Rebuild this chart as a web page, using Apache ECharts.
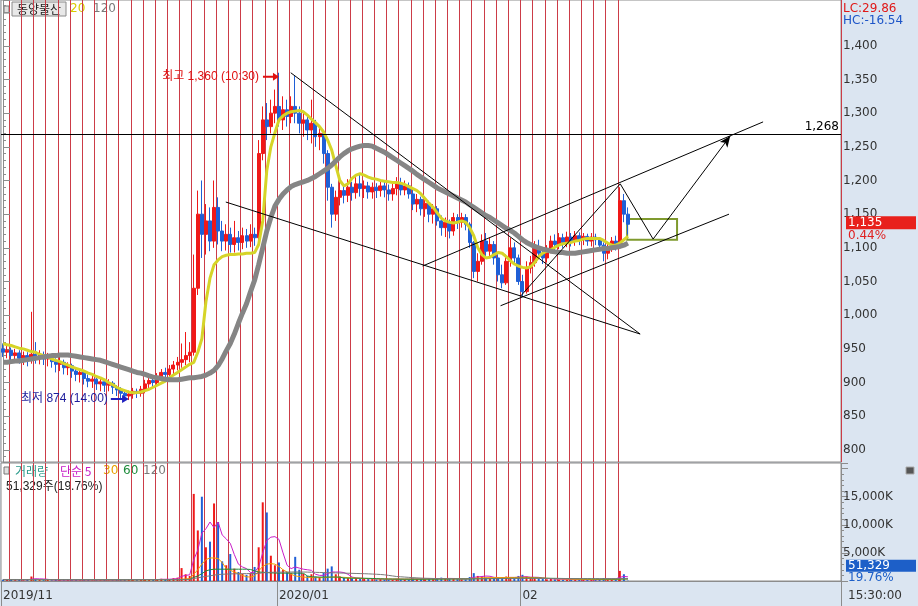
<!DOCTYPE html>
<html><head><meta charset="utf-8">
<script src="https://cdn.jsdelivr.net/npm/echarts@6/dist/echarts.min.js"></script>
<style>html,body{margin:0;padding:0;background:#fff}#c{width:918px;height:606px}</style>
</head><body><div id="c"></div>
<script>
// ---------------- data ----------------
const stockName = '동양물산';
const priceMaPeriods = ['20', '120'];
const volMaNames = ['단순 5', '30', '60', '120'];
const tickLabels = ['2019/11', '2020/01', '02'];
const tickSlots = [0, 68, 128];
const slotCount = 207;          // 3 slots per trading day + empty right margin
const firstDayLineSlot = 2, lastDayLineSlot = 152, slotsPerDay = 3;

// [open, close, low, high]
const candles = [
[950,945,938,958],[945,948,936,955],[948,940,933,952],[940,944,931,950],[944,936,928,948],
[936,940,926,946],[940,934,924,945],[934,942,928,1005],[942,936,928,960],[936,941,927,948],
[941,935,926,946],[935,938,924,944],[938,931,922,942],[931,927,915,936],[927,930,917,938],
[930,922,912,934],[922,925,911,930],[925,917,907,928],[917,912,902,922],[912,915,900,920],
[915,906,897,918],[906,902,893,912],[902,905,892,910],[905,898,889,908],[898,901,887,906],
[901,896,886,904],[896,899,887,905],[899,893,883,902],[893,889,880,896],[889,884,876,893],
[884,880,874,889],[880,883,874,888],[883,887,876,892],[887,884,877,891],[884,890,879,895],
[890,898,884,904],[898,903,892,908],[903,900,893,910],[900,908,895,914],[908,915,902,920],
[915,912,904,922],[912,920,906,926],[920,926,912,932],[926,930,918,938],[930,934,922,958],
[934,940,926,975],[940,945,930,960],[945,1040,940,1090],[1040,1150,1030,1185],[1150,1120,1085,1200],
[1120,1140,1090,1165],[1140,1110,1095,1160],[1110,1160,1100,1200],[1160,1125,1105,1175],[1125,1110,1095,1140],
[1110,1120,1096,1135],[1120,1105,1093,1130],[1105,1115,1093,1140],[1115,1108,1096,1125],[1108,1118,1098,1130],
[1118,1110,1100,1128],[1110,1120,1101,1135],[1120,1115,1103,1130],[1115,1240,1110,1260],[1240,1290,1230,1310],
[1290,1280,1260,1315],[1280,1300,1270,1320],[1300,1310,1285,1335],[1310,1290,1280,1360],[1290,1305,1275,1325],
[1305,1295,1280,1320],[1295,1310,1285,1325],[1310,1300,1285,1355],[1300,1285,1270,1310],[1285,1290,1265,1300],
[1290,1275,1260,1295],[1275,1285,1255,1320],[1285,1265,1250,1290],[1265,1270,1245,1280],[1270,1240,1225,1275],
[1240,1190,1170,1245],[1190,1150,1130,1195],[1150,1175,1140,1185],[1175,1185,1163,1200],[1185,1178,1166,1195],
[1178,1190,1168,1202],[1190,1182,1170,1198],[1182,1195,1173,1205],[1195,1188,1176,1208],[1188,1192,1174,1200],
[1192,1183,1173,1198],[1183,1190,1173,1197],[1190,1185,1174,1196],[1185,1192,1176,1200],[1192,1186,1175,1198],
[1186,1180,1170,1194],[1180,1188,1170,1195],[1188,1195,1178,1205],[1195,1186,1178,1204],[1186,1192,1178,1200],
[1192,1180,1173,1197],[1180,1165,1156,1186],[1165,1172,1153,1180],[1172,1158,1148,1176],[1158,1166,1146,1172],
[1166,1150,1138,1170],[1150,1158,1136,1165],[1158,1140,1133,1162],[1140,1130,1118,1148],[1130,1138,1116,1145],
[1138,1125,1114,1142],[1125,1145,1118,1152],[1145,1138,1128,1150],[1138,1145,1130,1152],[1145,1135,1126,1150],
[1135,1108,1100,1138],[1108,1065,1055,1110],[1065,1080,1050,1092],[1080,1110,1075,1120],[1110,1095,1085,1122],
[1095,1105,1088,1115],[1105,1085,1075,1110],[1085,1060,1050,1092],[1060,1048,1040,1075],[1048,1080,1045,1090],
[1080,1100,1072,1115],[1100,1085,1075,1108],[1085,1050,1045,1090],[1050,1035,1027,1060],[1035,1070,1032,1080],
[1070,1078,1062,1088],[1078,1100,1072,1110],[1100,1092,1083,1112],[1092,1085,1076,1098],[1085,1098,1078,1104],
[1098,1110,1092,1118],[1110,1105,1096,1120],[1105,1115,1098,1122],[1115,1108,1100,1121],[1108,1116,1101,1124],
[1116,1110,1102,1122],[1110,1118,1103,1125],[1118,1112,1104,1123],[1112,1117,1104,1122],[1117,1110,1103,1121],
[1110,1116,1102,1122],[1116,1112,1104,1121],[1112,1104,1096,1116],[1104,1092,1080,1108],[1092,1100,1083,1106],
[1100,1110,1094,1116],[1110,1105,1096,1118],[1105,1170,1100,1190],[1170,1150,1138,1180],[1150,1135,1120,1160]
];
const ma20 = [
958,956,955,953,951,950,948,946,945,942,940,938,935,933,931,928,926,923,921,919,
917,914,912,909,907,904,900,897,893,890,888,886,885,885,886,888,890,893,896,899,
902,907,911,915,919,923,927,930,945,965,1020,1055,1075,1082,1087,1089,1090,1090,1091,1091,
1092,1092,1093,1105,1140,1215,1250,1271,1290,1296,1300,1302,1303,1304,1302,1297,1291,1286,1280,1272,
1260,1245,1222,1200,1192,1195,1203,1208,1210,1208,1205,1203,1202,1200,1199,1198,1197,1197,1196,1194,
1191,1188,1185,1180,1173,1166,1160,1152,1144,1140,1138,1137,1138,1140,1138,1130,1118,1100,1090,1085,
1086,1090,1093,1092,1087,1081,1076,1073,1071,1070,1072,1078,1087,1092,1095,1097,1101,1104,1106,1107,
1108,1110,1111,1113,1114,1114,1114,1114,1111,1107,1104,1104,1107,1112,1117
];
const ma120 = [
930,930,931,932,932,933,934,935,936,937,938,939,940,940,941,941,941,940,939,938,
937,936,935,934,933,931,929,927,925,923,921,919,917,915,914,912,910,908,907,906,
905,904,904,904,905,906,907,907,908,909,911,914,918,925,935,947,958,972,988,1003,
1017,1035,1052,1075,1100,1125,1145,1162,1172,1180,1186,1191,1194,1196,1198,1200,1203,1206,1210,1214,
1218,1223,1229,1235,1240,1244,1247,1249,1251,1252,1252,1251,1248,1245,1242,1238,1234,1230,1226,1222,
1218,1214,1209,1205,1201,1197,1193,1189,1186,1183,1180,1177,1174,1171,1168,1164,1160,1156,1152,1148,
1145,1141,1137,1133,1129,1126,1122,1117,1112,1108,1105,1102,1100,1098,1097,1095,1094,1093,1093,1092,
1092,1092,1093,1094,1095,1096,1097,1098,1099,1099,1100,1101,1102,1104,1107
];
// volume in thousands of shares
const volume = [
250,180,300,150,220,130,200,800,400,160,140,210,120,180,150,130,170,140,200,120,
160,190,110,150,130,170,120,140,200,160,250,300,180,150,220,350,280,200,260,400,
300,350,500,600,2300,1200,900,15500,9000,15000,6000,7000,13800,10500,3500,2800,4800,2200,1600,1300,
1100,1400,2500,6000,14000,12200,4500,2800,3300,2000,1600,1400,4300,2000,1300,900,1200,800,700,1500,
2200,2600,1200,800,600,500,450,500,400,380,350,420,300,350,280,300,260,400,350,300,
280,450,350,400,300,500,400,450,600,400,350,500,350,300,280,700,1400,900,800,600,
500,450,700,650,800,600,400,900,1100,800,600,550,400,350,300,400,300,250,280,240,
260,230,220,250,200,230,210,300,500,400,300,350,1800,1200,51.329
];
const volMa5 = [
240,230,250,220,230,200,210,330,390,380,360,300,200,170,160,150,150,160,160,150,
160,160,150,150,150,150,150,140,150,160,180,210,220,220,220,260,260,240,260,300,
310,320,360,430,830,1000,1100,3800,5500,8500,9300,10500,9500,10500,8200,7500,6700,4700,3000,2500,
2200,1500,1600,2500,5000,7200,7800,7900,7400,5000,2800,2200,2500,2300,2100,2000,1900,1200,1000,1000,
1300,1600,1600,1600,1500,1200,700,550,500,450,420,400,380,370,350,330,310,320,320,310,
330,350,360,360,380,400,390,410,450,430,460,450,440,400,360,430,650,730,800,880,
840,650,610,600,620,640,630,670,760,760,680,670,650,540,440,400,350,320,300,270,
260,245,240,240,230,230,225,240,290,330,350,370,670,810,740
];
const volMa30 = [
260,255,250,250,248,245,240,250,255,250,248,245,240,238,235,232,230,228,226,224,
222,220,218,216,215,214,213,212,212,213,215,218,220,222,225,228,232,236,240,245,
250,255,265,280,320,380,420,1200,2000,3000,3800,4100,4100,4000,3300,2200,1900,1600,1300,1000,
750,700,900,1800,2600,3000,3100,3000,2600,2000,1600,1200,900,800,700,650,620,600,580,600,
650,700,700,680,650,600,560,520,480,450,420,400,390,380,370,360,350,345,340,335,
330,330,335,340,345,350,355,360,365,370,375,380,380,385,390,420,470,520,560,590,
600,600,605,610,620,630,640,650,660,650,630,600,560,520,480,440,400,380,360,340,
320,300,290,280,270,260,255,250,250,255,260,265,320,360,370
];
const volMa60 = [
230,230,232,232,233,233,234,236,238,238,238,238,237,236,235,234,233,232,231,230,
229,228,227,226,225,224,223,222,222,222,222,223,224,225,226,227,228,229,230,231,
232,233,234,236,250,265,280,650,900,1300,1800,2000,2100,2100,2100,2100,2100,2100,2100,2100,
2100,2050,1800,1600,1550,1500,1450,1420,1400,1400,1400,1400,1400,1400,1380,900,750,720,700,700,
700,700,700,680,520,510,500,500,500,490,470,450,420,380,360,350,340,335,330,325,
320,320,320,322,325,328,330,335,340,345,350,355,360,362,365,370,380,390,400,410,
420,430,440,450,460,470,480,490,500,505,510,510,505,500,490,480,470,460,450,440,
430,420,410,400,390,380,370,360,350,345,340,340,350,360,360
];
const volMa120 = [
270,270,268,268,266,266,265,265,264,264,263,263,262,262,261,261,260,260,259,259,
258,258,257,257,256,256,255,255,255,255,254,254,254,254,254,254,255,255,255,256,
256,257,258,260,270,280,290,450,560,700,820,920,1050,1150,1200,1230,1260,1280,1290,1300,
1310,1320,1330,1360,1450,1520,1540,1560,1570,1580,1590,1600,1610,1610,1600,1580,1560,1540,1520,1500,
1480,1460,1440,1420,1400,1380,1360,1340,1320,1300,1270,1240,1200,1160,1100,1000,900,800,750,700,
650,600,560,520,490,470,450,430,420,410,400,395,390,385,380,380,380,385,390,395,
400,405,410,415,420,425,430,435,440,445,450,450,450,448,446,444,442,440,438,436,
434,432,430,428,426,424,422,420,418,416,414,412,420,425,425
];
// annotations (slot index, price)
const highMark = {slot: 68, price: 1360, text: '최고 1,360 (10:30)'};
const lowMark = {slot: 31, price: 874, text: '최저 874 (14:00)'};
const hLevel = 1268;
const trendLines = [
  [70.9, 1360, 157.0, 972],
  [54.9, 1168, 157.0, 972],
  [103.4, 1073, 187.3, 1287],
  [122.6, 1014, 178.9, 1150],
  [127.5, 1028, 152.1, 1195],
  [152.1, 1195, 160.2, 1113]
];
const arrowLine = [160.2, 1113, 179.2, 1266];
const targetBox = [153.8, 1143, 166.1, 1112];
const lastClose = 1135, lastChange = '0.44%';
const lastVolumeText = '51,329', lastVolumePct = '19.76%';
const lcText = 'LC:29.86', hcText = 'HC:-16.54';
const clockText = '15:30:00';

// ---------------- chart ----------------
const fmt = n => n.toLocaleString('en-US');
const categories = Array.from({length: slotCount}, (_, i) => 's' + i);
const isDayLine = i => i >= firstDayLineSlot && i <= lastDayLineSlot && (i - firstDayLineSlot) % slotsPerDay === 0;
const isTick = i => tickSlots.indexOf(i) >= 0;
const UP = '#f01818', DOWN = '#1f5fd6';
const AX = '#8c8c8c';
const DAYLINE = '#cc3c48';
const numFont = 'DejaVu Sans';
const krFont = '"Liberation Sans","Noto Sans CJK KR"';
const HIDDEN_LINE = {color: 'rgba(0,0,0,0)', width: 0};

const chart = echarts.init(document.getElementById('c'), null, {renderer: 'canvas'});
const option = {
  animation: false,
  backgroundColor: '#dbe5f1',
  grid: [
    {left: 1, top: 0, width: 840, height: 462, show: true, backgroundColor: '#fff', borderColor: AX, borderWidth: 1},
    {left: 1, top: 463, width: 840, height: 118, show: true, backgroundColor: '#fff', borderColor: AX, borderWidth: 1}
  ],
  xAxis: [
    {type: 'category', gridIndex: 0, data: categories, boundaryGap: true,
     axisLine: {show: false}, axisTick: {show: false}, axisLabel: {show: false},
     splitLine: {show: true, interval: isDayLine, lineStyle: {color: DAYLINE, width: 1}}},
    {type: 'category', gridIndex: 1, data: categories, boundaryGap: true,
     axisLine: {show: true, lineStyle: {color: AX}},
     axisTick: {show: true, interval: isTick, length: 25, lineStyle: {color: AX}},
     axisLabel: {show: true, interval: isTick, align: 'left', margin: 9, color: '#333',
       fontFamily: numFont, fontSize: 12,
       formatter: (v, i) => { const k = tickSlots.indexOf(i); return k >= 0 ? tickLabels[k] : ''; }},
     splitLine: {show: true, interval: isDayLine, lineStyle: {color: DAYLINE, width: 1}}},
    {type: 'value', gridIndex: 0, min: -0.5, max: slotCount - 0.5, show: false}
  ],
  yAxis: [
    {type: 'value', gridIndex: 0, position: 'right', min: 782, max: 1468, minInterval: 50, maxInterval: 50, splitNumber: 14,
     axisLine: {show: true, lineStyle: {color: AX}},
     axisTick: {show: true, length: 7, lineStyle: {color: AX}},
     minorTick: {show: true, splitNumber: 5, length: 3, lineStyle: {color: AX}},
     splitLine: {show: false},
     axisLabel: {showMinLabel: false, showMaxLabel: false, color: '#333', fontFamily: numFont, fontSize: 12, margin: 2,
       formatter: v => (v >= 800 && v <= 1400) ? fmt(v) : ''}},
    {type: 'value', gridIndex: 1, position: 'right', min: 0, max: 21000, interval: 5000,
     axisLine: {show: true, lineStyle: {color: AX}},
     axisTick: {show: true, length: 7, lineStyle: {color: AX}},
     minorTick: {show: true, splitNumber: 5, length: 3, lineStyle: {color: AX}},
     splitLine: {show: false},
     axisLabel: {color: '#333', fontFamily: numFont, fontSize: 12, margin: 2,
       formatter: v => (v > 0 && v < 20000) ? fmt(v) + 'K' : ''}}
  ],
  series: [
    {type: 'candlestick', name: 'price', xAxisIndex: 0, yAxisIndex: 0, data: candles, barWidth: 3.5,
     itemStyle: {color: UP, color0: DOWN, borderColor: UP, borderColor0: DOWN, borderWidth: 1},
     markPoint: {silent: true, animation: false,
       data: [
         {coord: [highMark.slot, highMark.price], symbol: 'path://M0,3 L10,3 L10,0 L16,4 L10,8 L10,5 L0,5 Z',
          symbolSize: [16, 8], symbolOffset: [-8, 4], itemStyle: {color: '#e01010'},
          label: {show: true, position: 'left', distance: 4, formatter: highMark.text, color: '#e01010', fontSize: 12, fontFamily: krFont}},
         {coord: [lowMark.slot, lowMark.price], symbol: 'path://M0,3 L10,3 L10,0 L16,4 L10,8 L10,5 L0,5 Z',
          symbolSize: [18, 8], symbolOffset: [-9, -1], itemStyle: {color: '#2020c0'},
          label: {show: true, position: 'left', distance: 3, formatter: lowMark.text, color: '#1c1c9c', fontSize: 12, fontFamily: krFont}}
       ]},
     markLine: {silent: true, animation: false, symbol: ['none', 'none'], lineStyle: HIDDEN_LINE,
       data: [{yAxis: lastClose, label: {show: true, position: 'end', distance: 5, padding: [10, 0, 0, 0],
         formatter: '{a|' + fmt(lastClose) + '}\n{b|' + lastChange + '}',
         rich: {a: {backgroundColor: '#e8201c', color: '#fff', width: 68, height: 13, lineHeight: 13, padding: [0, 0, 0, 2], fontFamily: numFont, fontSize: 12},
                b: {color: '#e02020', height: 13, lineHeight: 13, padding: [0, 0, 0, 2], fontFamily: numFont, fontSize: 12}}}}]}
    },
    {type: 'line', name: '20', xAxisIndex: 0, yAxisIndex: 0, data: ma20, symbol: 'none', silent: true,
     lineStyle: {color: '#d6d428', width: 3}},
    {type: 'line', name: '120', xAxisIndex: 0, yAxisIndex: 0, data: ma120, symbol: 'none', silent: true,
     lineStyle: {color: '#858585', width: 5}},
    {type: 'line', name: 'annot', xAxisIndex: 2, yAxisIndex: 0, data: [], silent: true,
     markLine: {silent: true, animation: false, symbol: ['none', 'none'],
       lineStyle: {color: '#000', width: 1, type: 'solid'}, label: {show: false},
       data: trendLines.map(t => [{coord: [t[0], t[1]]}, {coord: [t[2], t[3]]}]).concat([
         [{coord: [arrowLine[0], arrowLine[1]], symbol: 'none'}, {coord: [arrowLine[2], arrowLine[3]], symbol: 'arrow', symbolSize: [7, 11]}],
         {yAxis: hLevel, label: {show: true, position: 'insideEndTop', formatter: fmt(hLevel), color: '#000', fontFamily: numFont, fontSize: 12, distance: 2}}
       ])},
     markArea: {silent: true, itemStyle: {color: 'rgba(0,0,0,0)', borderColor: '#7f9a2e', borderWidth: 2},
       data: [[{coord: [targetBox[0], targetBox[1]]}, {coord: [targetBox[2], targetBox[3]]}]]}
    },
    {type: 'bar', name: 'volume', xAxisIndex: 1, yAxisIndex: 1, data: volume, barWidth: 2, silent: true,
     itemStyle: {color: p => candles[p.dataIndex][1] >= candles[p.dataIndex][0] ? UP : DOWN},
     markLine: {silent: true, animation: false, symbol: ['none', 'none'], lineStyle: HIDDEN_LINE,
       data: [{yAxis: volume[volume.length - 1], label: {show: true, position: 'end', distance: 5, padding: [0, 0, 18, 0],
         formatter: '{a|' + lastVolumeText + '}\n{b|' + lastVolumePct + '}',
         rich: {a: {backgroundColor: '#1d5fc8', color: '#fff', width: 68, height: 12, lineHeight: 12, padding: [0, 0, 0, 2], fontFamily: numFont, fontSize: 12},
                b: {color: '#1d5fc8', height: 12, lineHeight: 12, padding: [0, 0, 0, 2], fontFamily: numFont, fontSize: 12}}}}]}
    },
    {type: 'line', name: 'v5', xAxisIndex: 1, yAxisIndex: 1, data: volMa5, symbol: 'none', silent: true, lineStyle: {color: '#c81ec8', width: 1}},
    {type: 'line', name: 'v30', xAxisIndex: 1, yAxisIndex: 1, data: volMa30, symbol: 'none', silent: true, lineStyle: {color: '#f0a000', width: 1}},
    {type: 'line', name: 'v60', xAxisIndex: 1, yAxisIndex: 1, data: volMa60, symbol: 'none', silent: true, lineStyle: {color: '#1e8c3c', width: 1}},
    {type: 'line', name: 'v120', xAxisIndex: 1, yAxisIndex: 1, data: volMa120, symbol: 'none', silent: true, lineStyle: {color: '#7a7a7a', width: 1}}
  ],
  graphic: [
    {type: 'rect', shape: {x: 4, y: 6, width: 5, height: 7}, style: {fill: '#e0e0e0', stroke: '#777'}},
    {type: 'rect', shape: {x: 12, y: 2, width: 54, height: 14}, style: {fill: '#e8e8e8', stroke: '#8a8a8a'}},
    {type: 'text', style: {x: 39, y: 9, text: stockName, fill: '#222', font: '12px "Noto Sans CJK KR"', align: 'center', verticalAlign: 'middle'}},
    {type: 'text', style: {x: 70, y: 9, text: priceMaPeriods[0], fill: '#d8cc00', font: '12px "DejaVu Sans"', verticalAlign: 'middle'}},
    {type: 'text', style: {x: 93, y: 9, text: priceMaPeriods[1], fill: '#7a7a7a', font: '12px "DejaVu Sans"', verticalAlign: 'middle'}},
    {type: 'text', style: {x: 843, y: 9, text: lcText, fill: '#e01818', font: '12px "DejaVu Sans"', verticalAlign: 'middle'}},
    {type: 'text', style: {x: 843, y: 21, text: hcText, fill: '#1d55c8', font: '12px "DejaVu Sans"', verticalAlign: 'middle'}},
    {type: 'rect', shape: {x: 4, y: 467, width: 5, height: 7}, style: {fill: '#e0e0e0', stroke: '#777'}},
    {type: 'text', style: {x: 15, y: 471, text: '거래량', fill: '#2a9a8a', font: '12px "Noto Sans CJK KR"', verticalAlign: 'middle'}},
    {type: 'text', style: {x: 60, y: 471, text: volMaNames[0], fill: '#c81ec8', font: '12px "Noto Sans CJK KR"', verticalAlign: 'middle'}},
    {type: 'text', style: {x: 103, y: 471, text: volMaNames[1], fill: '#e8a000', font: '12px "DejaVu Sans"', verticalAlign: 'middle'}},
    {type: 'text', style: {x: 123, y: 471, text: volMaNames[2], fill: '#1e8c3c', font: '12px "DejaVu Sans"', verticalAlign: 'middle'}},
    {type: 'text', style: {x: 143, y: 471, text: volMaNames[3], fill: '#7a7a7a', font: '12px "DejaVu Sans"', verticalAlign: 'middle'}},
    {type: 'text', style: {x: 6, y: 487, text: lastVolumeText + '주(' + lastVolumePct + ')', fill: '#222', font: '12px "Liberation Sans","Noto Sans CJK KR"', verticalAlign: 'middle'}},
    {type: 'rect', shape: {x: 906, y: 467, width: 8, height: 7}, style: {fill: '#555', stroke: '#aaa'}},
    {type: 'text', style: {x: 848, y: 596, text: clockText, fill: '#333', font: '12px "DejaVu Sans"', verticalAlign: 'middle'}}
  ]
};
chart.setOption(option);
</script>
</body></html>
